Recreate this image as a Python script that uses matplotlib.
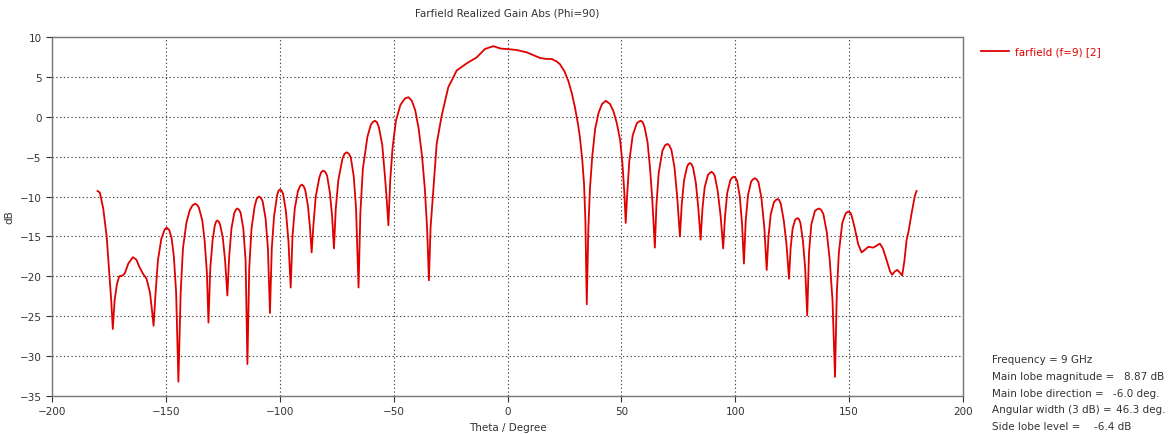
import matplotlib.pyplot as plt

# Farfield cut, Phi=90
theta = [
    -180.0, -179.0, -177.5, -176.0, -175.0, -174.0, -173.3,
    -172.5, -171.5, -170.5, -169.0, -168.0, -166.5, -164.5, -163.0, -161.5, -160.0, -158.5, -157.0, -156.0, -155.4,
    -154.5, -153.5, -152.0, -150.5, -149.6, -148.5, -147.5, -146.5, -145.5, -144.5,
    -143.5, -142.5, -141.0, -139.5, -138.3, -137.2, -136.2, -135.5, -134.0, -133.0, -132.0, -131.3,
    -130.5, -129.5, -128.5, -127.9, -127.4, -126.8, -126.2, -125.0, -124.0, -123.0,
    -122.2, -121.2, -120.0, -119.3, -118.6, -117.9, -117.2, -116.0, -115.0, -114.2,
    -113.4, -112.4, -111.0, -110.1, -109.2, -108.3, -107.5, -106.2, -105.2, -104.3,
    -103.5, -102.5, -101.2, -100.6, -99.9, -99.2, -98.5, -97.3, -96.2, -95.2,
    -94.4, -93.4, -92.0, -91.1, -90.3, -89.5, -88.8, -87.6, -86.7, -86.0,
    -85.2, -84.2, -82.6, -81.8, -80.9, -80.0, -79.2, -78.0, -77.0, -76.2,
    -75.4, -74.3, -72.5, -71.6, -70.6, -69.6, -68.8, -67.5, -66.5, -65.4,
    -64.6, -63.5, -61.5, -60.0, -59.1, -58.2, -57.3, -56.5, -55.0, -53.8, -53.0, -52.3,
    -51.5, -50.5, -49.0, -47.0, -45.0, -43.5, -42.0, -40.5, -39.0, -37.5, -36.3, -35.3, -34.5,
    -33.8, -32.6, -31.1, -28.9, -26.0, -22.3, -17.9, -13.5, -9.9, -6.2, -3.0, -0.4,
    4.0, 8.4, 11.5, 14.3, 17.0, 19.4, 21.5, 23.0, 25.0, 26.7, 28.2, 29.6, 31.0, 31.8,
    32.8, 33.6, 34.2, 34.8,
    35.5, 36.2, 37.2, 38.5, 40.0, 41.5, 43.2, 45.0, 46.5, 48.0, 49.5, 50.5, 51.3, 51.9,
    52.6, 53.5, 55.0, 56.8, 57.7, 58.6, 59.4, 60.2, 61.5, 62.6, 63.6, 64.7,
    65.4, 66.4, 68.0, 69.1, 70.2, 71.1, 72.0, 73.3, 74.5, 75.7,
    76.5, 77.5, 78.8, 79.4, 80.1, 80.8, 81.5, 82.7, 83.8, 84.8,
    85.6, 86.6, 88.0, 88.8, 89.6, 90.3, 91.0, 92.3, 93.6, 94.7,
    95.5, 96.5, 97.9, 98.6, 99.4, 100.1, 100.8, 102.0, 103.0, 103.8,
    104.6, 105.6, 107.0, 107.8, 108.6, 109.4, 110.2, 111.5, 112.8, 113.8,
    114.6, 115.6, 117.0, 117.8, 118.6, 119.3, 120.0, 121.3, 122.5, 123.6,
    124.3, 125.2, 126.3, 126.9, 127.4, 128.0, 128.6, 129.7, 130.7, 131.6,
    132.4, 133.4, 135.0, 135.9, 136.9, 137.8, 138.7, 140.2, 141.5, 142.7, 143.8,
    144.6, 145.5, 147.0, 148.5, 149.2, 149.9, 150.6, 151.2, 152.5, 154.0, 155.5, 156.8, 158.4, 160.6,
    162.3, 163.5, 164.8, 166.5, 168.0, 168.9, 170.0, 171.1, 172.2, 173.3,
    174.3, 175.2, 176.0, 177.5, 178.8, 179.6,
]
gain_db = [
    -9.3, -9.5, -11.5, -15.0, -19.0, -23.0, -26.6,
    -23.0, -21.0, -20.0, -19.9, -19.6, -18.4, -17.6, -17.9, -18.9, -19.7, -20.3, -22.0, -24.5, -26.2,
    -22.0, -18.0, -15.3, -14.1, -13.9, -14.2, -15.2, -17.5, -22.0, -33.2,
    -22.0, -16.5, -13.3, -11.7, -11.1, -10.9, -11.05, -11.4, -13.0, -15.5, -19.5, -25.8,
    -19.0, -15.5, -13.6, -13.12, -13.0, -13.15, -13.5, -15.2, -18.0, -22.4,
    -17.5, -14.0, -12.1, -11.65, -11.5, -11.65, -12.0, -14.0, -18.0, -31.0,
    -19.0, -14.0, -11.2, -10.25, -10.0, -10.15, -10.6, -12.8, -16.5, -24.6,
    -16.5, -12.5, -9.9, -9.3, -9.1, -9.25, -9.7, -11.8, -15.5, -21.4,
    -15.0, -11.5, -9.3, -8.7, -8.5, -8.7, -9.2, -11.2, -14.0, -17.0,
    -13.5, -10.0, -7.6, -6.95, -6.75, -6.9, -7.4, -9.5, -12.5, -16.5,
    -11.5, -8.0, -5.3, -4.65, -4.45, -4.65, -5.1, -7.5, -11.5, -21.4,
    -12.0, -6.5, -2.5, -1.0, -0.65, -0.5, -0.7, -1.3, -3.5, -7.5, -10.5, -13.6,
    -8.0, -4.0, -0.5, 1.5, 2.3, 2.45, 2.0, 0.8, -1.5, -5.0, -9.0, -14.0, -20.5,
    -14.0, -9.3, -3.4, 0.15, 3.7, 5.8, 6.7, 7.45, 8.5, 8.85, 8.55, 8.5,
    8.37, 8.08, 7.7, 7.37, 7.25, 7.24, 6.95, 6.6, 5.7, 4.5, 3.0, 1.2, -1.0, -2.6,
    -5.3, -8.4, -13.0, -23.5,
    -14.0, -9.0, -5.0, -1.5, 0.5, 1.6, 2.0, 1.6, 0.7, -0.8, -3.0, -6.0, -9.5, -13.3,
    -9.5, -5.5, -2.3, -0.8, -0.6, -0.5, -0.7, -1.3, -3.2, -6.5, -10.5, -16.4,
    -11.0, -7.0, -4.3, -3.6, -3.4, -3.6, -4.2, -6.3, -10.0, -15.0,
    -11.0, -8.0, -6.3, -5.95, -5.8, -5.95, -6.4, -8.3, -11.5, -15.4,
    -11.5, -8.8, -7.3, -7.05, -6.9, -7.05, -7.4, -9.3, -12.5, -16.5,
    -12.5, -9.5, -7.9, -7.65, -7.5, -7.65, -8.0, -10.0, -13.5, -18.4,
    -13.0, -9.8, -8.1, -7.85, -7.7, -7.85, -8.2, -10.2, -14.0, -19.2,
    -15.0, -12.2, -10.7, -10.45, -10.3, -10.45, -10.9, -13.0, -16.0, -20.3,
    -16.5, -14.0, -12.9, -12.78, -12.7, -12.85, -13.3, -15.5, -19.0, -24.9,
    -17.0, -13.5, -11.8, -11.6, -11.5, -11.7, -12.2, -14.5, -18.0, -23.0, -32.6,
    -22.0, -17.0, -13.3, -12.1, -11.95, -11.9, -12.05, -12.5, -14.0, -16.0, -17.0, -16.7, -16.3, -16.4,
    -16.1, -15.9, -16.5, -18.0, -19.4, -19.8, -19.4, -19.2, -19.5, -19.9,
    -18.0, -15.5, -14.5, -12.0, -10.0, -9.3,
]

x_ticks = [-200, -150, -100, -50, 0, 50, 100, 150, 200]
y_ticks = [10, 5, 0, -5, -10, -15, -20, -25, -30, -35]

info_labels = ['Frequency = 9 GHz', 'Main lobe magnitude =', 'Main lobe direction =',
               'Angular width (3 dB) =', 'Side lobe level =']
info_values = ['', '8.87 dB', '-6.0 deg.', '46.3 deg.', '-6.4 dB']
info_value_x = [0, 1124, 1113, 1116, 1094]

txt = '#333333'
fig = plt.figure(figsize=(11.68, 4.35), dpi=100)
ax = fig.add_axes([52 / 1168, 1 - 397 / 435, (963 - 52) / 1168, (397 - 38) / 435])

ax.plot(theta, gain_db, color='#e00000', lw=1.3, label='farfield (f=9) [2]')

ax.set_xlim(-200, 200)
ax.set_ylim(-35, 10)
ax.set_xticks(x_ticks)
ax.set_yticks(y_ticks)
ax.grid(True, color='#444444', linestyle=(0, (1.2, 2.2)), linewidth=0.8)
ax.tick_params(labelsize=7.5, colors=txt, length=4, width=0.8)
for s in ax.spines.values():
    s.set_color('#777777')
    s.set_linewidth(1.0)

ax.set_xlabel('Theta / Degree', fontsize=7.5, color=txt, labelpad=4)
ax.set_ylabel('dB', fontsize=7.5, color=txt, labelpad=4)
fig.text(0.434, 1 - 14 / 435, 'Farfield Realized Gain Abs (Phi=90)', fontsize=7.5,
         color=txt, ha='center', va='center')

ax.legend(loc='upper left', bbox_to_anchor=(1.01, 1.0), frameon=False, fontsize=7.5,
          labelcolor='#e00000', handlelength=2.6, handletextpad=0.6)

for i, lab in enumerate(info_labels):
    y = 1 - (360 + 16.8 * i) / 435
    fig.text(992 / 1168, y, lab, fontsize=7.5, color=txt, va='center')
    if info_values[i]:
        fig.text(info_value_x[i] / 1168, y, info_values[i], fontsize=7.5, color=txt, va='center')

plt.savefig('out.png', dpi=100)
